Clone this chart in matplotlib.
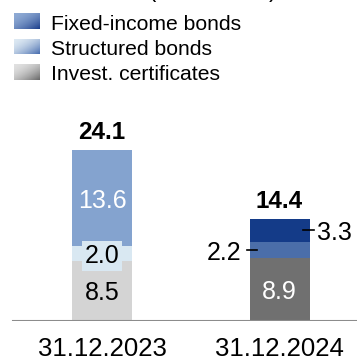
import numpy as np
import matplotlib

matplotlib.use("Agg")
import matplotlib.pyplot as plt
from matplotlib.colors import LinearSegmentedColormap

plt.rcParams["font.family"] = ["Liberation Sans", "DejaVu Sans"]

# Values in EUR billion, stacked bottom -> top
dates = ["31.12.2023", "31.12.2024"]
series = ["Invest. certificates", "Structured bonds", "Fixed-income bonds"]
invest_cert = [8.5, 8.9]
structured = [2.0, 2.2]
fixed_income = [13.6, 3.3]
totals = [24.1, 14.4]

# colours per year: earlier year light, later year dark
colors = {
    "Invest. certificates": ["#d4d4d4", "#707070"],
    "Structured bonds": ["#d9e8f2", "#4b6ea9"],
    "Fixed-income bonds": ["#84a3cf", "#143b88"],
}
legend_grad = {
    "Fixed-income bonds": ("#8eaad4", "#1d3f8c"),
    "Structured bonds": ("#dde9f3", "#4a6fb0"),
    "Invest. certificates": ("#e0e0e0", "#6a6a6a"),
}

W = H = 357
fig = plt.figure(figsize=(W / 100, H / 100), dpi=100)

base_px = 321          # baseline of bars (pixels from top)
px_per_unit = 7.1
x0_px, dx_px = 102, 177.5
ax = fig.add_axes([0, (H - base_px) / H, 1, base_px / H])
ax.set_ylim(0, base_px / px_per_unit)
ax.set_xlim(-x0_px / dx_px, 1 + (W - x0_px - dx_px) / dx_px)
ax.axis("off")

x = np.arange(len(dates))
width = 60 / dx_px
bottom = np.zeros(len(dates))
stack = {"Invest. certificates": invest_cert, "Structured bonds": structured,
         "Fixed-income bonds": fixed_income}
for name in series:
    vals = np.array(stack[name])
    ax.bar(x, vals, width, bottom=bottom, color=colors[name], lw=0)
    bottom = bottom + vals

ax.axhline(0, xmin=13 / W, xmax=1, color="#8c8c8c", lw=1.5)

seg_fs = 18
VA = "center_baseline"
# 2023: labels inside the segments
b0 = 0.0
for name, tc in [("Invest. certificates", "black"), ("Structured bonds", "black"),
                 ("Fixed-income bonds", "white")]:
    v = stack[name][0]
    kw = {}
    if name == "Structured bonds":
        kw["bbox"] = dict(boxstyle="square,pad=0.12", fc=colors[name][0], ec="none")
    ax.text(x[0], b0 + v / 2, f"{v:.1f}", ha="center", va=VA, fontsize=seg_fs,
            color=tc, **kw)
    b0 += v

# 2024: bottom label inside, thin segments labelled with leader lines
v = invest_cert[1]
ax.text(x[1], v / 2, f"{v:.1f}", ha="center", va=VA, fontsize=seg_fs, color="white")
left = x[1] - width / 2
right = x[1] + width / 2
ys = invest_cert[1] + structured[1] / 2
ax.plot([left - 3 / dx_px, left + 7 / dx_px], [ys, ys], color="black", lw=1.2)
ax.text(left - 8 / dx_px, ys, f"{structured[1]:.1f}", ha="right", va=VA,
        fontsize=seg_fs)
yf = invest_cert[1] + structured[1] + fixed_income[1] / 2
ax.plot([right - 7 / dx_px, right + 4 / dx_px], [yf, yf], color="black", lw=1.2)
ax.text(right + 8 / dx_px, yf, f"{fixed_income[1]:.1f}", ha="left", va=VA,
        fontsize=seg_fs)

# totals above bars
for xi, t in zip(x, totals):
    ax.annotate(f"{t:.1f}", (xi, t), xytext=(0, 8), textcoords="offset points",
                ha="center", va="baseline", fontsize=17.5, fontweight="bold")

# date labels under the axis
for xi, d in zip(x, dates):
    ax.annotate(d, (xi, 0), xytext=(0, -35.5 * 0.72), textcoords="offset points",
                ha="center", va="baseline", fontsize=18.5)

# unit title, mostly above the canvas
fig.text(277 / W, 1 + 2.5 / H, "Volume (EUR billion)", ha="right", va="baseline",
         fontsize=16.5)

# legend with gradient swatches
grad = np.add.outer(np.linspace(0, 1, 16), np.linspace(0, 1, 26)) / 2
for i, name in enumerate(["Fixed-income bonds", "Structured bonds", "Invest. certificates"]):
    top_px = 13 + i * 25.5
    lax = fig.add_axes([14 / W, 1 - (top_px + 16) / H, 26 / W, 16 / H])
    cmap = LinearSegmentedColormap.from_list(name, legend_grad[name])
    lax.imshow(grad ** 1.8, cmap=cmap, aspect="auto", vmin=0, vmax=1,
               interpolation="bilinear")
    lax.axis("off")
    fig.text(51 / W, 1 - (top_px + 16.5) / H, name, ha="left", va="baseline",
             fontsize=15.2)

fig.savefig("out.png", dpi=100)
